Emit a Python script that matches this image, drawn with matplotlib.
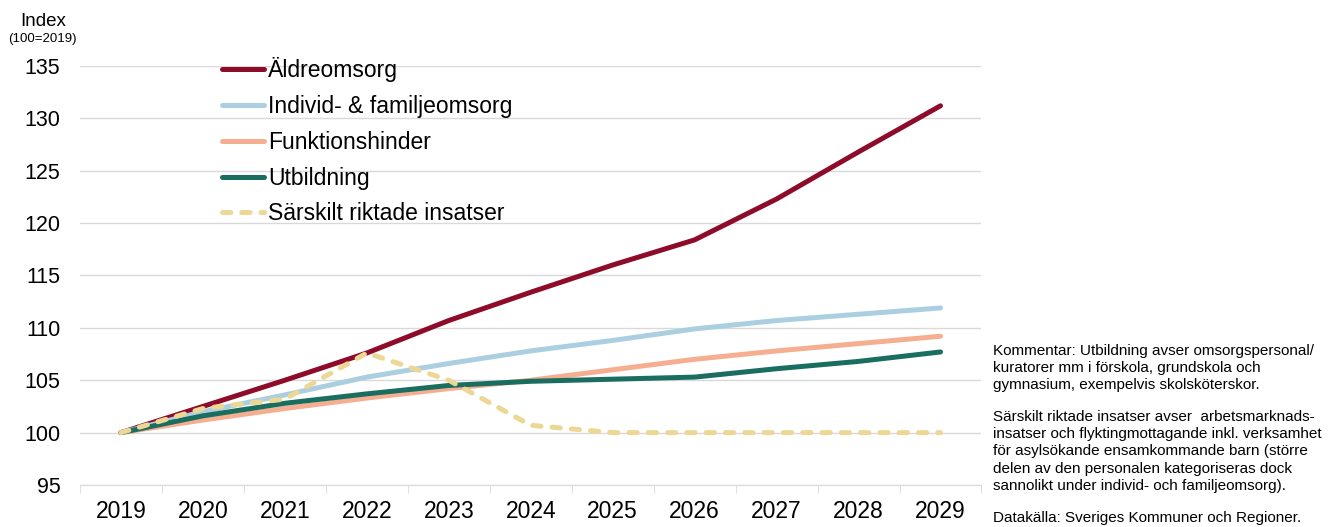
import matplotlib
matplotlib.use("Agg")
import matplotlib.pyplot as plt

plt.rcParams['font.family'] = ['Liberation Sans', 'DejaVu Sans']

years = [2019, 2020, 2021, 2022, 2023, 2024, 2025, 2026, 2027, 2028, 2029]

aldreomsorg = [100, 102.5, 105.0, 107.6, 110.7, 113.4, 116.0, 118.4, 122.3, 126.8, 131.2]
individ = [100, 102.0, 103.6, 105.3, 106.6, 107.8, 108.8, 109.9, 110.7, 111.3, 111.9]
funktionshinder = [100, 101.2, 102.3, 103.3, 104.2, 105.0, 106.0, 107.0, 107.8, 108.5, 109.2]
utbildning = [100, 101.6, 102.8, 103.7, 104.5, 104.9, 105.1, 105.3, 106.1, 106.8, 107.7]
sarskilt = [100, 102.3, 103.2, 107.6, 105.0, 100.7, 100.0, 100.0, 100.0, 100.0, 100.0]

series = [
    ('Äldreomsorg', aldreomsorg, '#8e0c2a', '-'),
    ('Individ- & familjeomsorg', individ, '#abcfe1', '-'),
    ('Funktionshinder', funktionshinder, '#f6ae91', '-'),
    ('Utbildning', utbildning, '#1a6e5f', '-'),
    ('Särskilt riktade insatser', sarskilt, '#ecd894', '--'),
]

comment = ("Kommentar: Utbildning avser omsorgspersonal/\n"
           "kuratorer mm i förskola, grundskola och\n"
           "gymnasium, exempelvis skolsköterskor.")
comment2 = ("Särskilt riktade insatser avser  arbetsmarknads-\n"
            "insatser och flyktingmottagande inkl. verksamhet\n"
            "för asylsökande ensamkommande barn (större\n"
            "delen av den personalen kategoriseras dock\n"
            "sannolikt under individ- och familjeomsorg).")
source = "Datakälla: Sveriges Kommuner och Regioner."

fig = plt.figure(figsize=(13.39, 5.27), dpi=100)
ax = fig.add_axes([0.0597, 0.0797, 0.6733, 0.7951])

for label, vals, color, ls in series:
    if ls == '--':
        ax.plot(years, vals, color=color, lw=3.6, ls=(0, (1.66, 2.2)),
                label=label, solid_capstyle='round', dash_capstyle='round')
    else:
        ax.plot(years, vals, color=color, lw=3.6, label=label,
                solid_capstyle='round')

ax.set_xlim(2018.5, 2029.5)
ax.set_ylim(95, 135)
ax.set_yticks(range(95, 136, 5))
ax.set_xticks(years)
ax.set_xticks([y - 0.5 for y in years] + [2029.5], minor=True)
ax.yaxis.grid(True, color='#d9d9d9', lw=1)
ax.set_axisbelow(True)
for s in ['top', 'right', 'left']:
    ax.spines[s].set_visible(False)
ax.spines['bottom'].set_color('#d9d9d9')
ax.tick_params(axis='y', length=0, labelsize=15.5, pad=14)
ax.tick_params(axis='x', which='major', length=0, labelsize=16.5, pad=11)
ax.tick_params(axis='x', which='minor', length=6, color='#d9d9d9')

leg = ax.legend(loc='upper left', bbox_to_anchor=(0.1474, 1.043), frameon=False,
                fontsize=16.5, handlelength=1.85, handletextpad=0.15,
                labelspacing=0.56, borderaxespad=0)

fig.text(0.032, 0.960, 'Index', fontsize=13.5, ha='center', va='center')
fig.text(0.032, 0.926, '(100=2019)', fontsize=9.5, ha='center', va='center')

fig.text(0.7415, 0.348, comment, fontsize=11, va='top', ha='left',
         linespacing=1.31)
fig.text(0.7415, 0.2227, comment2, fontsize=11, va='top', ha='left',
         linespacing=1.31)
fig.text(0.7415, 0.031, source, fontsize=11, va='top', ha='left')

fig.savefig('out.png', dpi=100)
